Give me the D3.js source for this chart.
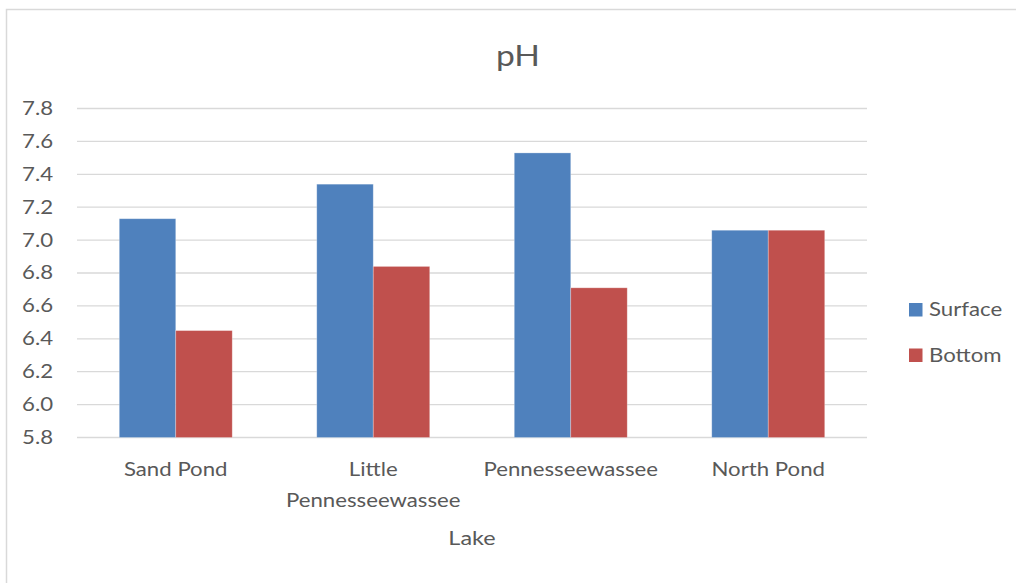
<!DOCTYPE html>
<html><head><meta charset="utf-8">
<script src="https://cdn.jsdelivr.net/npm/d3@7"></script>
<style>body{margin:0;background:#fff}svg{display:block}text{font-family:Lato,"Open Sans",sans-serif;fill:#595959}</style>
</head><body><svg id="c" width="1016" height="583"></svg>
<script>
const categories = [["Sand Pond"], ["Little", "Pennesseewassee"], ["Pennesseewassee"], ["North Pond"]];
const seriesNames = ["Surface", "Bottom"];
const surface = [7.13, 7.34, 7.53, 7.06];
const bottom = [6.45, 6.84, 6.71, 7.06];
const yTicks = [5.8, 6.0, 6.2, 6.4, 6.6, 6.8, 7.0, 7.2, 7.4, 7.6, 7.8];
const colors = ["#4f81bd", "#c0504d"];

(function () {
const stretch = 1.2;
function widen(sel) {
  sel.each(function () {
    const w = this.getComputedTextLength();
    d3.select(this).attr("textLength", w * stretch).attr("lengthAdjust", "spacingAndGlyphs");
  });
}
const svg = d3.select("#c");
svg.append("rect").attr("x", 6.5).attr("y", 9.5).attr("width", 1100).attr("height", 700)
  .attr("fill", "#fff").attr("stroke", "#d9d9d9").attr("stroke-width", 1.5);

const pLeft = 77, pRight = 867, pTop = 108.5, pBottom = 437.5;
const keys = categories.map(c => c.join(" "));
const x = d3.scaleBand().domain(keys).range([pLeft, pRight]).paddingInner(0.428).paddingOuter(0.214);
const x1 = d3.scaleBand().domain(seriesNames).range([0, x.bandwidth()]);
const y = d3.scaleLinear().domain([5.8, 7.8]).range([pBottom, pTop]);

svg.append("g").selectAll("line").data(yTicks).join("line")
  .attr("x1", pLeft).attr("x2", pRight).attr("y1", d => y(d)).attr("y2", d => y(d))
  .attr("stroke", "#d9d9d9").attr("stroke-width", 1.3);

const yAxis = d3.axisLeft(y).tickValues(yTicks).tickFormat(d3.format(".1f")).tickSize(0).tickPadding(0);
const gy = svg.append("g").attr("transform", `translate(${53},0)`).call(yAxis);
gy.select(".domain").remove();
gy.selectAll("text").style("font-size", "18.5px").style("fill", "#595959").style("font-family", "Lato").call(widen);

const data = [surface, bottom];
const g = svg.append("g");
seriesNames.forEach((s, si) => {
  g.append("g").selectAll("rect").data(keys).join("rect")
    .attr("x", (k) => x(k) + x1(s))
    .attr("width", x1.bandwidth())
    .attr("y", (k, i) => y(data[si][i]))
    .attr("height", (k, i) => y(5.8) - y(data[si][i]))
    .attr("fill", colors[si]).attr("stroke", "rgba(255,255,255,0.35)").attr("stroke-width", 0.8);
});

const xl = svg.append("g");
categories.forEach((c, i) => {
  const cx = x(keys[i]) + x.bandwidth() / 2;
  c.forEach((line, li) => {
    xl.append("text").attr("x", cx).attr("y", 476 + li * 31)
      .attr("text-anchor", "middle").style("font-size", "18.5px").text(line).call(widen);
  });
});

svg.append("text").attr("x", 472).attr("y", 545).attr("text-anchor", "middle").style("font-size", "19.5px").text("Lake").call(widen);
svg.append("text").attr("x", 518).attr("y", 66).attr("text-anchor", "middle").style("font-size", "28px").text("pH").call(widen);

seriesNames.forEach((s, i) => {
  const ly = 309.5 + i * 45.5;
  svg.append("rect").attr("x", 909).attr("y", ly - 6.5).attr("width", 13.5).attr("height", 13.5).attr("fill", colors[i]);
  svg.append("text").attr("x", 929).attr("y", ly + 6.5).style("font-size", "18.5px").text(s).call(widen);
});
})();
</script></body></html>
